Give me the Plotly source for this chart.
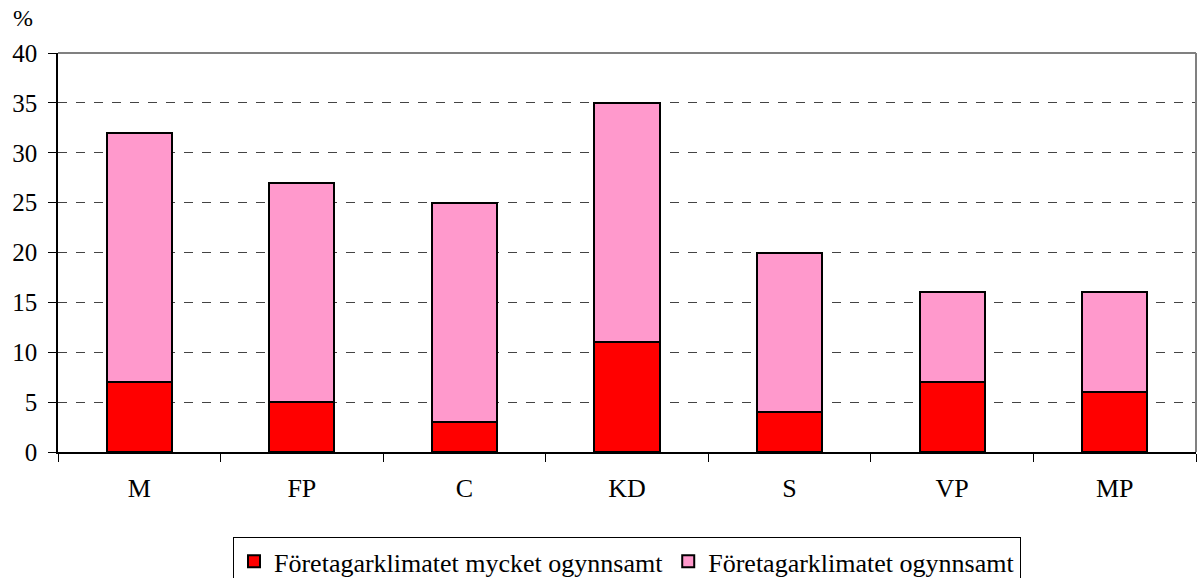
import plotly.graph_objects as go

categories = ["M", "FP", "C", "KD", "S", "VP", "MP"]
mycket_ogynnsamt = [7, 5, 3, 11, 4, 7, 6]
ogynnsamt = [25, 22, 22, 24, 16, 9, 10]

font_family = "Liberation Serif, Times New Roman, serif"

fig = go.Figure()
fig.add_trace(go.Bar(
    x=categories, y=mycket_ogynnsamt, name="Företagarklimatet mycket ogynnsamt",
    marker=dict(color="#FF0000", line=dict(color="black", width=2)),
))
fig.add_trace(go.Bar(
    x=categories, y=ogynnsamt, name="Företagarklimatet ogynnsamt",
    marker=dict(color="#FF99CC", line=dict(color="black", width=2)),
))

fig.update_layout(
    barmode="stack",
    bargap=0.6,
    width=1199, height=578,
    margin=dict(l=58, r=3, t=53, b=126, autoexpand=False),
    plot_bgcolor="white", paper_bgcolor="white",
    font=dict(family=font_family, size=25, color="black"),
    showlegend=True,
    legend=dict(
        orientation="h", x=0.5, xanchor="center",
        yref="container", y=0.071, yanchor="top",
        bordercolor="black", borderwidth=1,
        font=dict(family=font_family, size=26, color="black"),
        traceorder="normal", itemwidth=30,
    ),
    annotations=[dict(text="%", xref="paper", yref="paper", x=-0.031, y=1.088,
                      xanchor="center", yanchor="middle", showarrow=False,
                      font=dict(family=font_family, size=24))],
)

fig.update_yaxes(
    range=[0, 40], dtick=5, showgrid=True, gridcolor="#444444", griddash="dash", gridwidth=1,
    showline=True, linecolor="black", linewidth=1.5, ticks="outside", ticklen=8, tickcolor="black",
    zeroline=False, mirror=False, tickfont=dict(family=font_family, size=25), ticklabelstandoff=6,
)
fig.update_xaxes(
    showline=True, linecolor="black", linewidth=1.5, ticks="outside", ticklen=8, tickcolor="black",
    tickson="boundaries", tickfont=dict(family=font_family, size=26), ticklabelstandoff=12,
)
# gray top/right frame
fig.add_shape(type="line", xref="paper", yref="paper", x0=0, x1=1, y0=1, y1=1,
              line=dict(color="#808080", width=2))
fig.add_shape(type="line", xref="paper", yref="paper", x0=1, x1=1, y0=0, y1=1,
              line=dict(color="#808080", width=2))

fig.write_html("out.html", config={"displayModeBar": False},
               post_script="document.body.style.margin='0px';")
